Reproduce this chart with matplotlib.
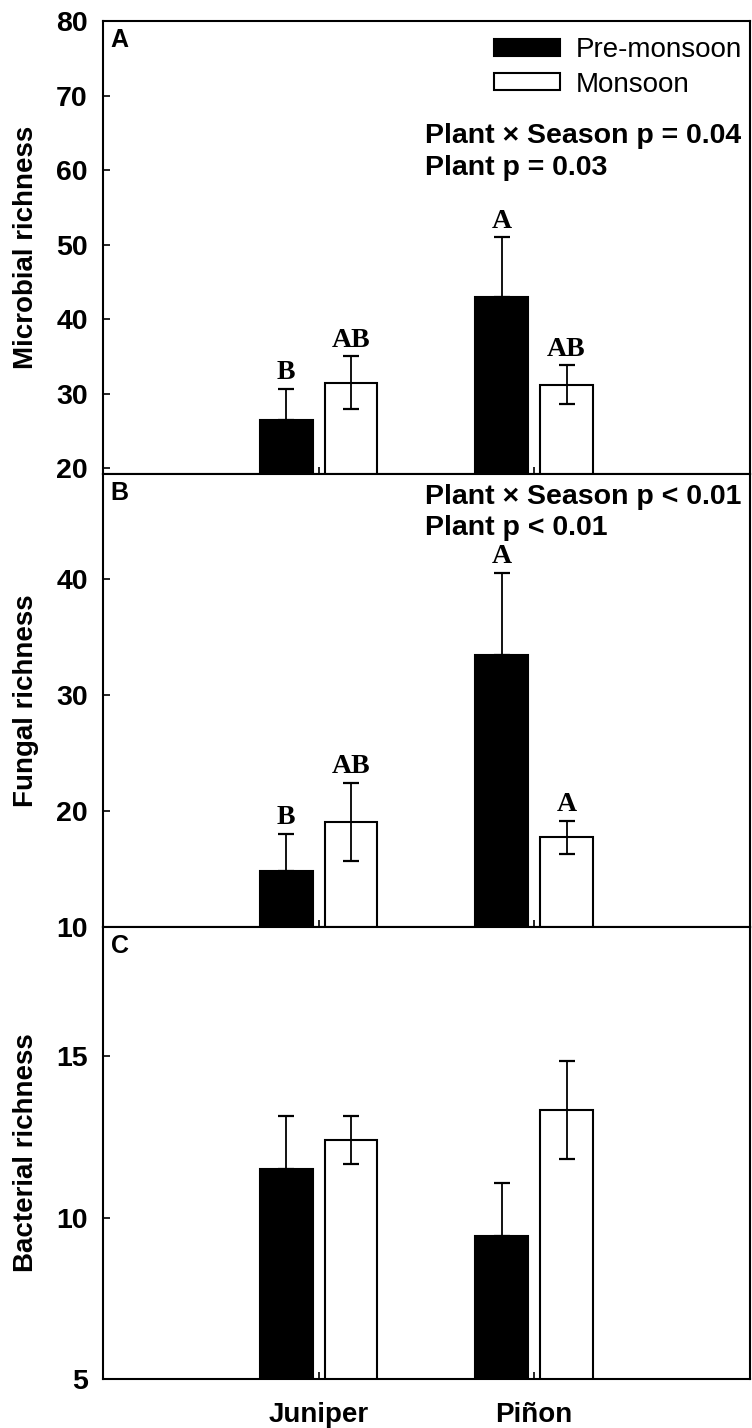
import numpy as np
import matplotlib.pyplot as plt
from matplotlib.patches import Patch

plt.rcParams['font.family'] = ['Liberation Sans', 'DejaVu Sans']

plants = ['Juniper', 'Piñon']
seasons = ['Pre-monsoon', 'Monsoon']

# mean and SE per plant, one pair per season
microbial_pre = [26.5, 43.0]
microbial_pre_se = [4.1, 8.0]
microbial_mon = [31.5, 31.2]
microbial_mon_se = [3.5, 2.6]
microbial_letters_pre = ['B', 'A']
microbial_letters_mon = ['AB', 'AB']

fungal_pre = [14.8, 33.4]
fungal_pre_se = [3.2, 7.1]
fungal_mon = [19.05, 17.7]
fungal_mon_se = [3.35, 1.45]
fungal_letters_pre = ['B', 'A']
fungal_letters_mon = ['AB', 'A']

bacterial_pre = [11.5, 9.45]
bacterial_pre_se = [1.65, 1.63]
bacterial_mon = [12.4, 13.33]
bacterial_mon_se = [0.75, 1.52]

fig = plt.figure(figsize=(7.52, 14.28), dpi=100)
left, width, height = 0.137, 0.860, 0.317
ax_a = fig.add_axes([left, 0.668, width, height])
ax_b = fig.add_axes([left, 0.351, width, height])
ax_c = fig.add_axes([left, 0.034, width, height])

x = np.arange(len(plants))
bw = 0.245
off = 0.15


def draw_panel(ax, pre, pre_se, mon, mon_se, ylim, yticks, ylabel, tag,
               let_pre=None, let_mon=None):
    ax.bar(x - off, pre, bw, bottom=0, color='black', edgecolor='black',
           linewidth=1.5, zorder=2)
    ax.bar(x + off, mon, bw, bottom=0, color='white', edgecolor='black',
           linewidth=1.5, zorder=2)
    ax.errorbar(x - off, pre, yerr=[np.zeros(len(pre)), pre_se], fmt='none',
                ecolor='black', elinewidth=1.3, capsize=5.5, capthick=1.6, zorder=3)
    ax.errorbar(x + off, mon, yerr=mon_se, fmt='none',
                ecolor='black', elinewidth=1.3, capsize=5.5, capthick=1.6, zorder=3)
    if let_pre is not None:
        for xi, v, e, s in zip(x - off, pre, pre_se, let_pre):
            ax.annotate(s, (xi, v + e), xytext=(0, 7), textcoords='offset points',
                        ha='center', va='baseline', fontsize=20, fontweight='bold',
                        family='Liberation Serif')
        for xi, v, e, s in zip(x + off, mon, mon_se, let_mon):
            ax.annotate(s, (xi, v + e), xytext=(0, 7), textcoords='offset points',
                        ha='center', va='baseline', fontsize=20, fontweight='bold',
                        family='Liberation Serif')
    ax.set_xlim(-1, 2)
    ax.set_ylim(*ylim)
    ax.set_yticks(yticks)
    ax.set_xticks(x)
    ax.set_xticklabels([])
    ax.tick_params(direction='in', length=5, width=1.2, labelsize=20.5, pad=11)
    ax.tick_params(axis='x', pad=16)
    for lab in ax.get_yticklabels():
        lab.set_fontweight('bold')
    ax.set_ylabel(ylabel, fontsize=20, fontweight='bold', labelpad=12)
    for sp in ax.spines.values():
        sp.set_linewidth(1.5)
    ax.text(0.012, 0.985, tag, transform=ax.transAxes, ha='left', va='top',
            fontsize=18, fontweight='bold')


draw_panel(ax_a, microbial_pre, microbial_pre_se, microbial_mon, microbial_mon_se,
           (19.2, 80), [20, 30, 40, 50, 60, 70, 80], 'Microbial richness', 'A',
           microbial_letters_pre, microbial_letters_mon)
draw_panel(ax_b, fungal_pre, fungal_pre_se, fungal_mon, fungal_mon_se,
           (10, 49), [10, 20, 30, 40], 'Fungal richness', 'B',
           fungal_letters_pre, fungal_letters_mon)
draw_panel(ax_c, bacterial_pre, bacterial_pre_se, bacterial_mon, bacterial_mon_se,
           (5, 19), [5, 10, 15], 'Bacterial richness', 'C')

ax_c.set_xticklabels(plants, fontsize=20, fontweight='bold')

# two-way ANOVA results
stat_kw = dict(ha='left', va='center', fontsize=20.5, fontweight='bold')
ax_a.text(0.498, 0.746, 'Plant × Season p = 0.04', transform=ax_a.transAxes, **stat_kw)
ax_a.text(0.498, 0.677, 'Plant p = 0.03', transform=ax_a.transAxes, **stat_kw)
ax_b.text(0.498, 0.949, 'Plant × Season p < 0.01', transform=ax_b.transAxes, **stat_kw)
ax_b.text(0.498, 0.881, 'Plant p < 0.01', transform=ax_b.transAxes, **stat_kw)

handles = [Patch(facecolor='black', edgecolor='black', linewidth=1.5),
           Patch(facecolor='white', edgecolor='black', linewidth=1.5)]
ax_a.legend(handles, seasons, loc='upper left', bbox_to_anchor=(0.604, 0.965),
            frameon=False, fontsize=20, borderpad=0, borderaxespad=0,
            handlelength=2.4, handleheight=0.55, handletextpad=0.55,
            labelspacing=0.3)

fig.savefig('out.png', dpi=100)
